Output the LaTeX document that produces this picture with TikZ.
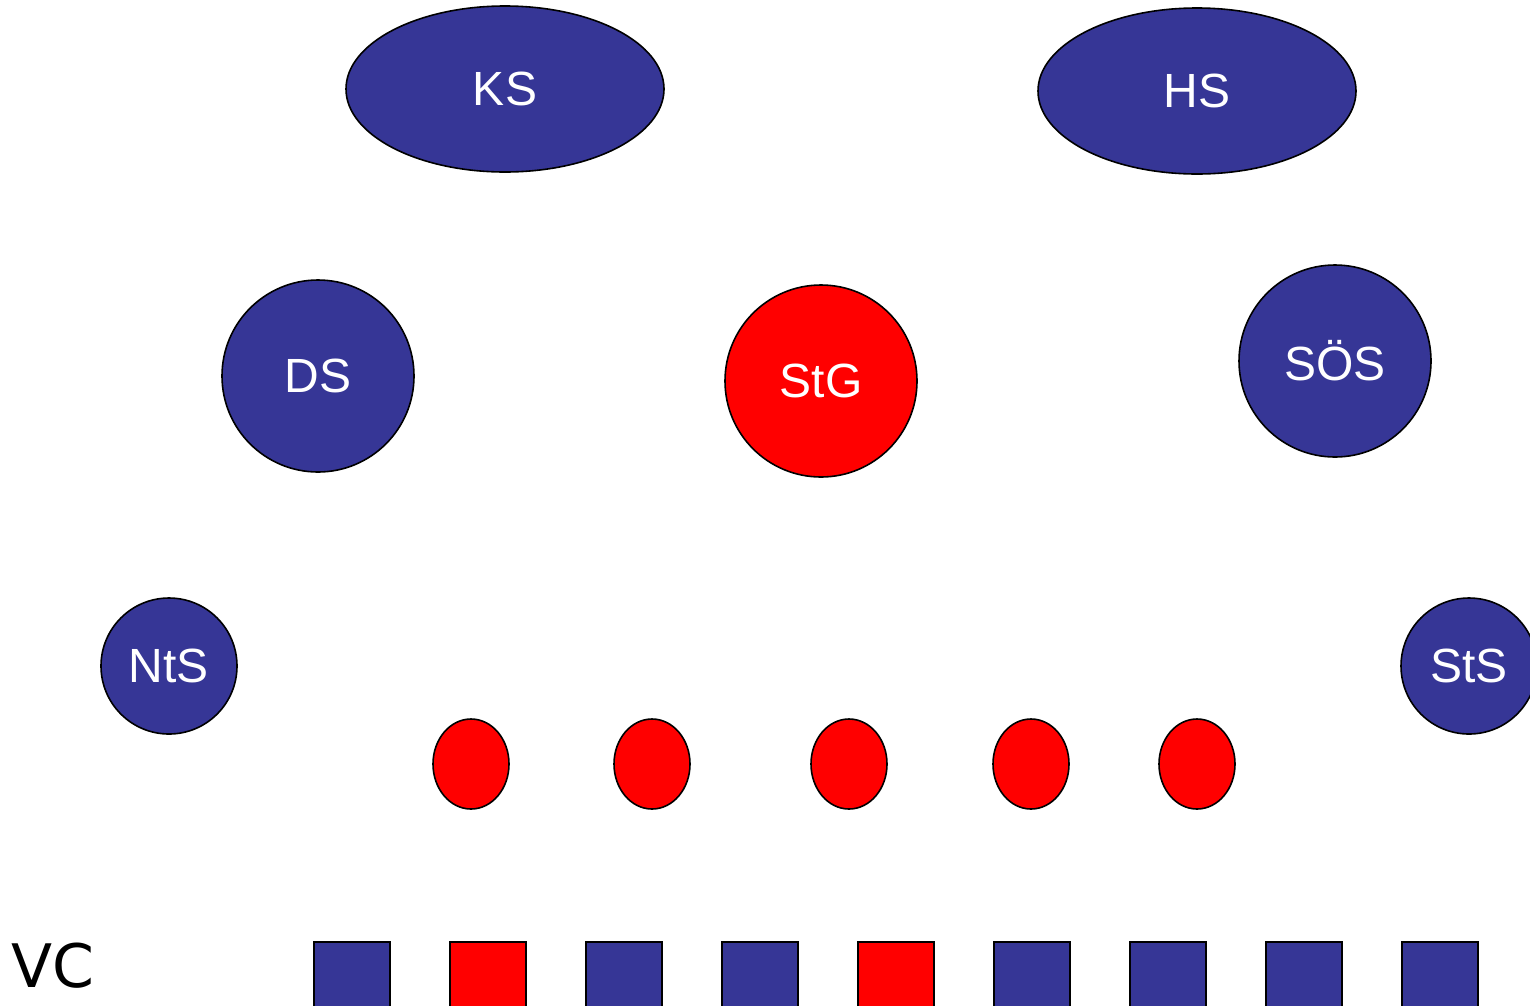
\documentclass[tikz,border=0pt]{standalone}
\usepackage{fontspec}
\setmainfont{Liberation Sans}
\newfontfamily\handfont{DejaVu Sans}
\usetikzlibrary{positioning,shapes.geometric}
\definecolor{schoolblue}{RGB}{54,54,150}
\begin{document}
\begin{tikzpicture}[
  x=1pt, y=-1pt,
  unit/.style={draw=black, line width=1.6pt, inner sep=0pt, text=white,
    font=\fontsize{48}{56}\selectfont},
  big/.style={unit, ellipse, fill=schoolblue, minimum width=318pt, minimum height=166pt},
  school/.style={unit, circle, fill=schoolblue, minimum size=192pt},
  small/.style={unit, circle, fill=schoolblue, minimum size=136pt},
  seat/.style={unit, ellipse, fill=red, minimum width=76pt, minimum height=90pt},
  vcbox/.style={unit, rectangle, minimum size=76pt, anchor=north west}
]
  \useasboundingbox (0,0) rectangle (1530,1005);
  \clip (0,0) rectangle (1530,1005);

  \node[big]    (ks)  at (505,89)   {KS};
  \node[big]    (hs)  at (1197,91)  {HS};
  \node[school] (ds)  at (318,376)  {DS};
  \node[school, fill=red] (stg) at (821,381) {StG};
  \node[school] (sos) at (1335,361) {SÖS};
  \node[small]  (nts) at (169,666)  {NtS};
  \node[small]  (sts) at (1469,666) {StS};

  % red seats
  \foreach \x [count=\i] in {471,652,849,1031,1197}
    \node[seat] (seat\i) at (\x,764) {};

  % VC row
  \node[font=\handfont\fontsize{60}{70}\selectfont, anchor=west] (vc) at (8,966) {VC};
  \foreach \c [count=\i] in {schoolblue,red,schoolblue,schoolblue,red,schoolblue,schoolblue,schoolblue,schoolblue}
    \node[vcbox, fill=\c] (vc\i) at ({313+136*(\i-1)},941) {};
\end{tikzpicture}
\end{document}
